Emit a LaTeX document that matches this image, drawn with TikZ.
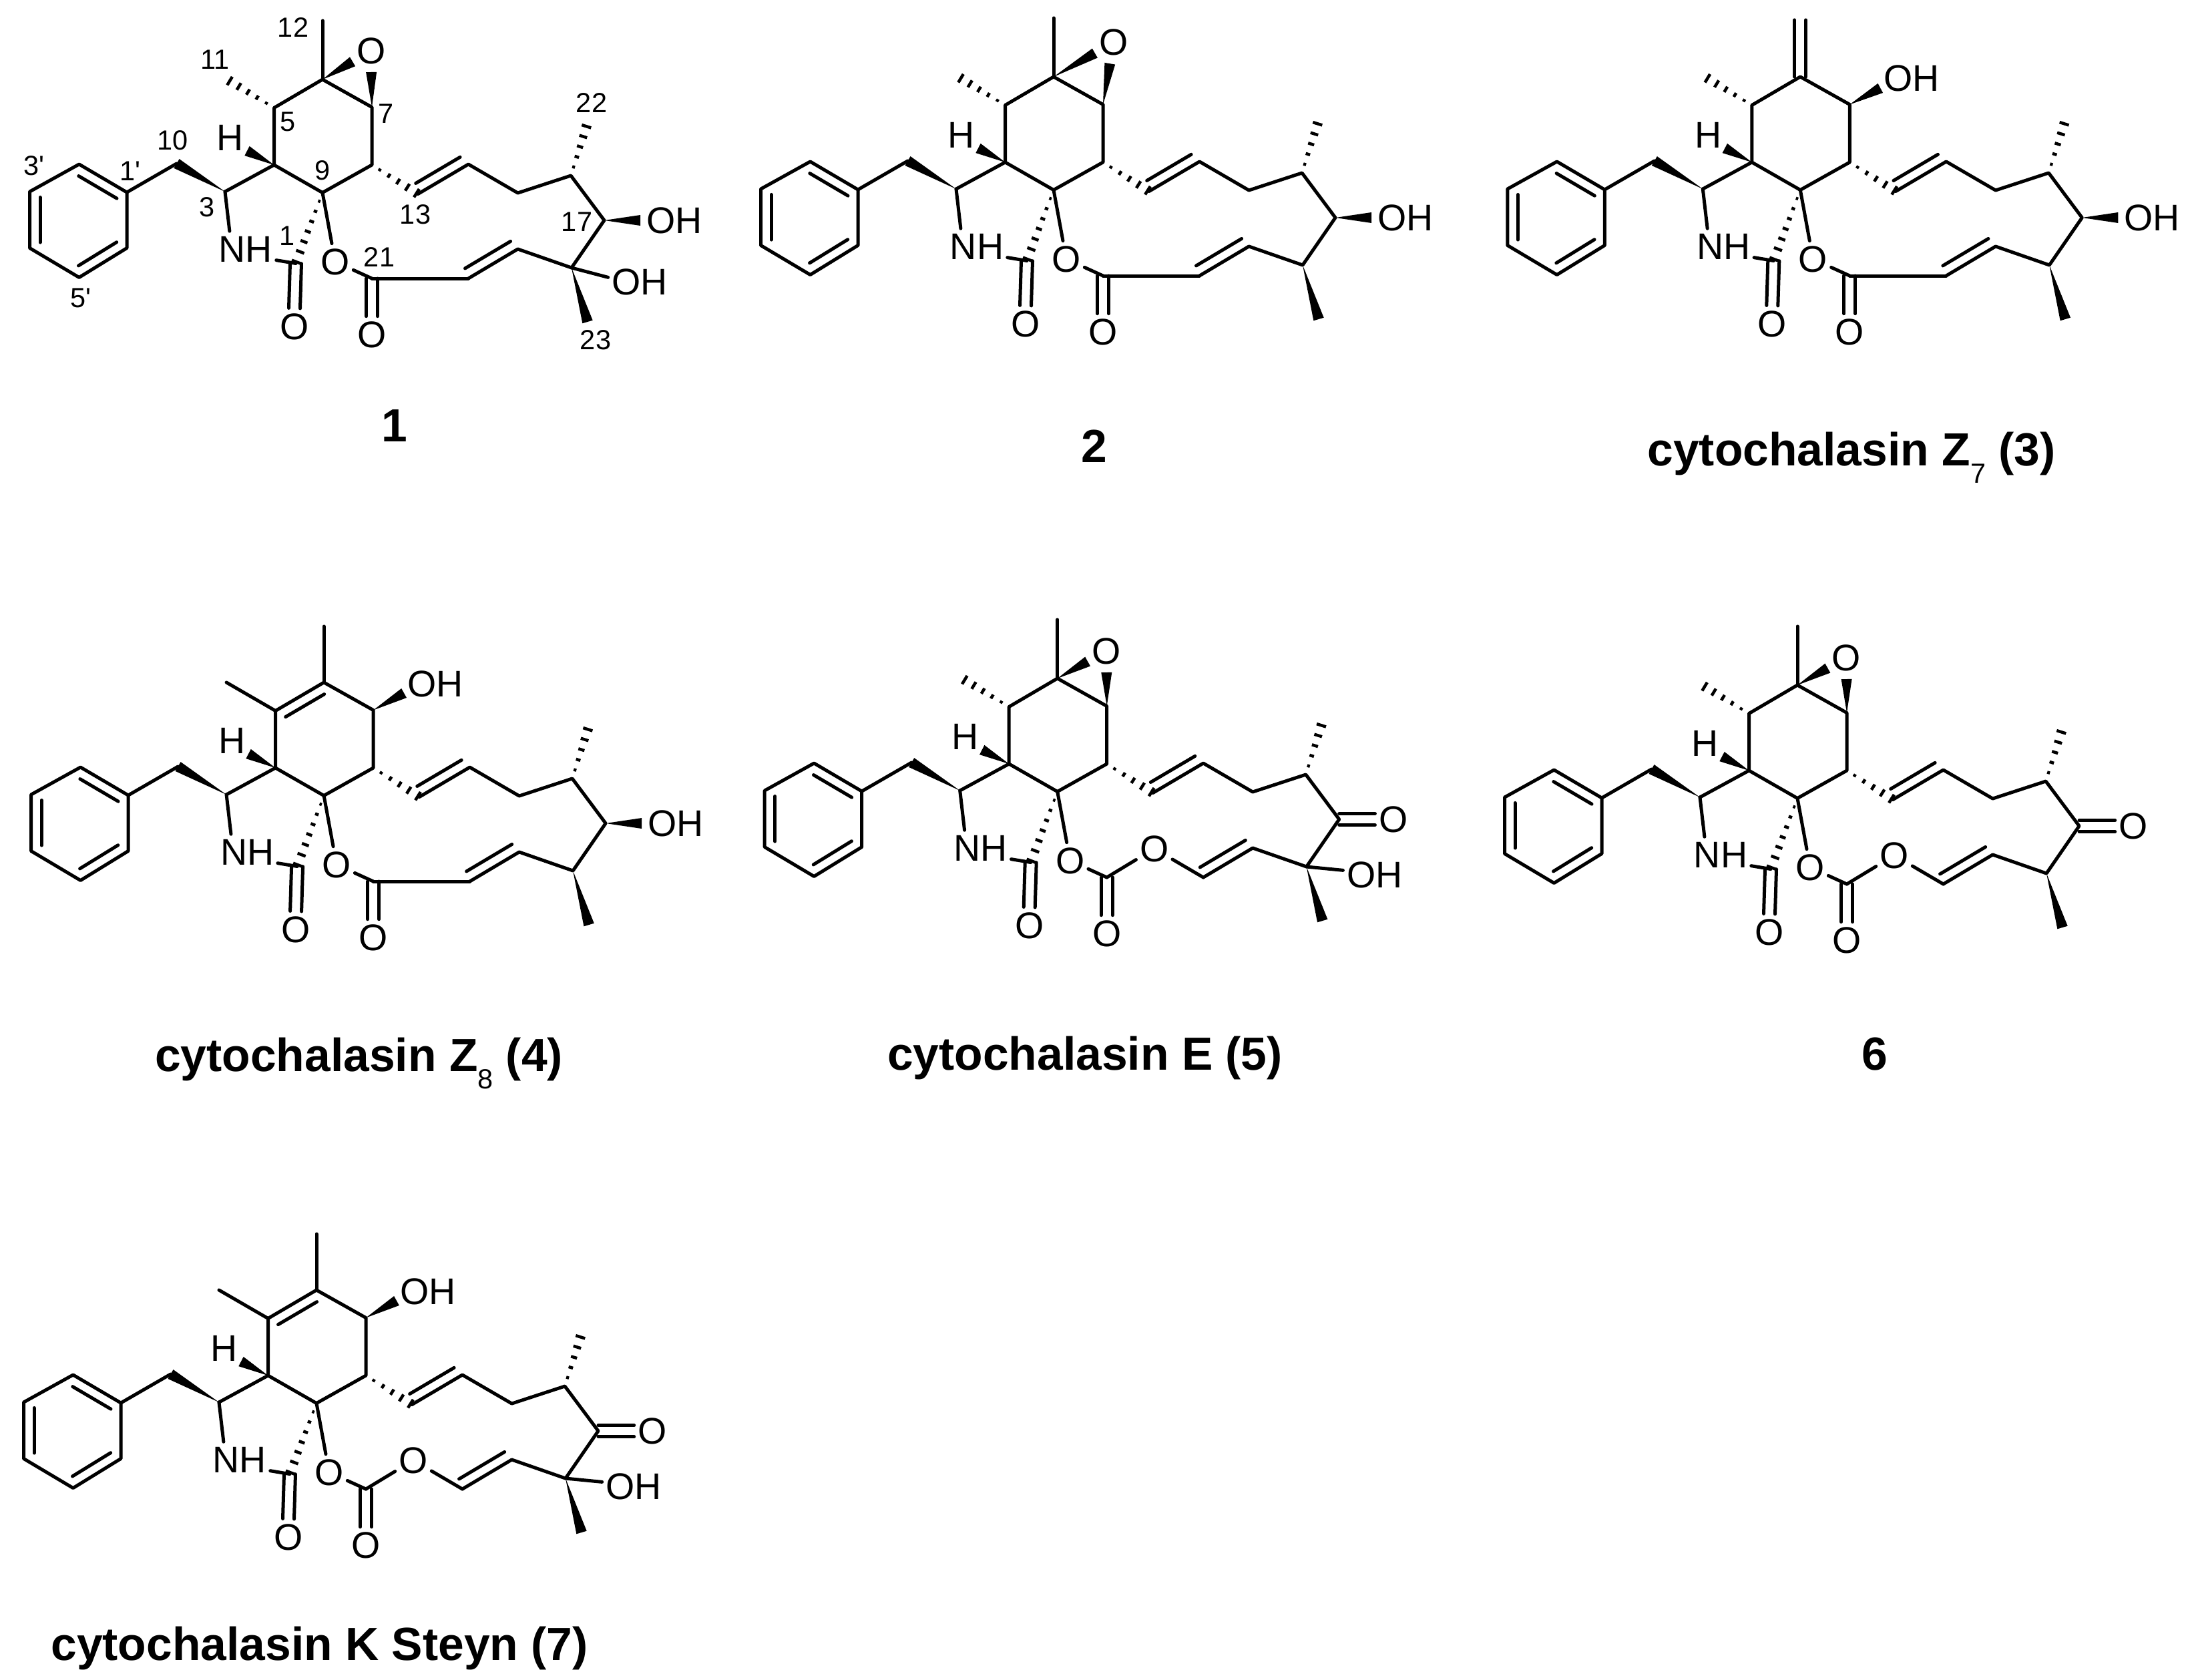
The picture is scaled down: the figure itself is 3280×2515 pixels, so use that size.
\documentclass[tikz,border=0pt]{standalone}
\usepackage{fontspec}
\setmainfont{Liberation Sans}
\usetikzlibrary{calc}
\newcommand{\atomfont}{\fontsize{15.8}{18}\selectfont}
\newcommand{\numfont}{\fontsize{11.8}{14}\selectfont}
\newcommand{\capfont}{\fontsize{19.8}{23}\selectfont\bfseries}
\tikzset{
	bond/.style={line width=.5mm,line cap=round,line join=round},
	hashline/.style={line width=.45mm},
	atomlab/.style={font=\atomfont,inner xsep=.5mm,inner ysep=.7mm},
	numlab/.style={font=\numfont,inner sep=0pt},
	caplab/.style={font=\capfont,anchor=base,inner sep=0pt},
}
\newcommand{\wedgebond}[2]{\fill ($(#2)!.8mm!90:(#1)$) -- (#1) -- ($(#2)!.8mm!-90:(#1)$) -- cycle;}
\newcommand{\hashbond}[3][5]{\foreach \hs in {1,...,#1}{
	\pgfmathsetmacro{\hp}{(\hs-0.15)/#1}
	\pgfmathsetmacro{\hw}{.1+.65*\hp}
	\draw[hashline] ($(#2)!\hp!(#3)!\hw mm!90:(#3)$) -- ($(#2)!\hp!(#3)!\hw mm!-90:(#3)$);}}
\newcommand{\dblbond}[2]{
	\draw[bond] ($(#1)!.85mm!90:(#2)$) -- ($(#2)!.85mm!-90:(#1)$);
	\draw[bond] ($(#1)!.85mm!-90:(#2)$) -- ($(#2)!.85mm!90:(#1)$);}
\newcommand{\innerbond}[3][.1]{\draw[bond] ($(#2)!#1!(#3)!1.55mm!90:(#3)$) -- ($(#3)!#1!(#2)!1.55mm!-90:(#2)$);}
\newcommand{\cytocore}{
	\coordinate (Ph1) at (190,288);
	\coordinate (Ph2) at (118.5,246);
	\coordinate (Ph3) at (44.5,287);
	\coordinate (Ph4) at (44.5,371.5);
	\coordinate (Ph5) at (118.5,415.5);
	\coordinate (Ph6) at (190,371.5);
	\coordinate (C10) at (264.5,245);
	\coordinate (C3) at (337,287);
	\coordinate (C4) at (410.5,247);
	\coordinate (C5) at (410.5,161.5);
	\coordinate (C6) at (483,119);
	\coordinate (C7) at (557,160.5);
	\coordinate (C8) at (557,247);
	\coordinate (C9) at (483,288.5);
	\coordinate (C1) at (443,394.5);
	\coordinate (C13) at (626,290.5);
	\coordinate (C14) at (701.5,246);
	\coordinate (C15) at (775.5,289);
	\coordinate (C16) at (855,263);
	\coordinate (C17) at (905,330);
	\coordinate (C18) at (856,401);
	\coordinate (C19) at (775.5,373);
	\coordinate (C20) at (701.5,417);
	\coordinate (C21) at (557,417);
	\coordinate (Me22) at (879,187);
	\coordinate (Me23) at (880,482);
	\coordinate (Hw) at (370,226);
	\node[atomlab] (Hb) at (345,206) {H};
	\node[atomlab] (NH) at (368,373) {NH};
	\node[atomlab] (Oest) at (502,392) {O};
	\node[atomlab] (Oam) at (441,489) {O};
	\node[atomlab] (Ocb) at (557,501) {O};
	\draw[bond] (Ph1) -- (Ph2) -- (Ph3) -- (Ph4) -- (Ph5) -- (Ph6) -- cycle;
	\innerbond{Ph1}{Ph2}
	\innerbond{Ph3}{Ph4}
	\innerbond{Ph5}{Ph6}
	\draw[bond] (Ph1) -- (C10);
	\wedgebond{C3}{C10}
	\draw[bond] (C3) -- (C4) -- (C5) -- (C6) -- (C7) -- (C8) -- (C9) -- (C4);
	\wedgebond{C4}{Hw}
	\draw[bond] (C3) -- (NH.132);
	\draw[bond] (NH.-20) -- (C1);
	\dblbond{C1}{Oam.north}
	\hashbond[7]{C9}{C1}
	\draw[bond] (C9) -- (Oest);
	\draw[bond] (Oest) -- (C21);
	\dblbond{C21}{Ocb.north}
	\hashbond{C8}{C13}
	\draw[bond] (C13) -- (C14) -- (C15) -- (C16) -- (C17) -- (C18) -- (C19) -- (C20);
	\innerbond[.06]{C13}{C14}
	\innerbond[.04]{C20}{C19}
	\hashbond{C16}{Me22}
	\wedgebond{C18}{Me23}
}
\newcommand{\epoxytop}[1]{
	\coordinate (C12) at (483,31);
	\coordinate (C11) at (342,120);
	\node[atomlab] (Oep) at (#1) {O};
	\coordinate (Wa) at ($(Oep)!3.2mm!(C6)$);
	\coordinate (Wb) at ($(Oep)!3.2mm!(C7)$);
	\draw[bond] (C6) -- (C12);
	\hashbond{C5}{C11}
	\wedgebond{C6}{Wa}
	\wedgebond{C7}{Wb}
}
\newcommand{\alkenetop}{
	\coordinate (C12) at (483,35);
	\coordinate (C11) at (337,119);
	\coordinate (Wc) at (603,135);
	\node[atomlab] (OHc) at (650,121) {OH};
	\draw[bond] (C6) -- (C12);
	\draw[bond] (C5) -- (C11);
	\innerbond{C6}{C5}
	\wedgebond{C7}{Wc}
}
\newcommand{\alcoholside}{
	\coordinate (Wd) at (959,330);
	\node[atomlab] (OHd) at (1010,330) {OH};
	\wedgebond{C17}{Wd}
	\draw[bond] (C21) -- (C20);
}
\newcommand{\ketoneside}{
	\node[atomlab] (Okt) at (986,330) {O};
	\node[atomlab] (Ocr) at (628,374) {O};
	\dblbond{C17}{Okt.west}
	\draw[bond] (C21) -- (Ocr);
	\draw[bond] (Ocr) -- (C20);
}
\newcommand{\tertoh}[1]{
	\node[atomlab] (OHe) at (958,#1) {OH};
	\draw[bond] (C18) -- (OHe.172);
}
\begin{document}
\begin{tikzpicture}[x=.1mm,y=-.1mm]
	\useasboundingbox (0,0) rectangle (3280,2515);
	\fill[white] (0,0) rectangle (3280,2515);
	\begin{scope}[name prefix=m1-]
		\cytocore
		\epoxytop{555.6,76}
		\alcoholside
		\tertoh{422}
		\node[numlab] (n12) at (439,41) {12};
		\node[numlab] (n11) at (322,89) {11};
		\node[numlab] (n5) at (431,182) {5};
		\node[numlab] (n7) at (578,170) {7};
		\node[numlab] (n10) at (259,210) {10};
		\node[numlab] (n3p) at (51,248) {3\textquotesingle};
		\node[numlab] (n1p) at (195,256) {1\textquotesingle};
		\node[numlab] (n3) at (310,310) {3};
		\node[numlab] (n9) at (483,255) {9};
		\node[numlab] (n1) at (430,353) {1};
		\node[numlab] (n21) at (568,385) {21};
		\node[numlab] (n13) at (622,321) {13};
		\node[numlab] (n22) at (886,154) {22};
		\node[numlab] (n17) at (864,332) {17};
		\node[numlab] (n23) at (892,509) {23};
		\node[numlab] (n5p) at (121,446) {5\textquotesingle};
	\end{scope}
	\begin{scope}[shift={(1095,-4)},name prefix=m2-]
		\cytocore
		\epoxytop{572.6,67.7}
		\alcoholside
	\end{scope}
	\begin{scope}[shift={(2213.3,-4)},name prefix=m3-]
		\cytocore
		\coordinate (CH2) at (483,34);
		\coordinate (C11) at (342,120);
		\coordinate (Wc) at (603,136);
		\node[atomlab] (OHc) at (650,121) {OH};
		\dblbond{C6}{CH2}
		\hashbond{C5}{C11}
		\wedgebond{C7}{Wc}
		\alcoholside
	\end{scope}
	\begin{scope}[shift={(2.1,903)},name prefix=m4-]
		\cytocore
		\alkenetop
		\alcoholside
	\end{scope}
	\begin{scope}[shift={(1100.7,897)},name prefix=m5-]
		\cytocore
		\epoxytop{556.3,78}
		\ketoneside
		\tertoh{413}
	\end{scope}
	\begin{scope}[shift={(2209,907)},name prefix=m6-]
		\cytocore
		\epoxytop{556.3,78}
		\ketoneside
	\end{scope}
	\begin{scope}[shift={(-9,1813)},name prefix=m7-]
		\cytocore
		\alkenetop
		\ketoneside
		\tertoh{413}
	\end{scope}
	\node[caplab] (cap1) at (591,661) {1};
	\node[caplab] (cap2) at (1639,692) {2};
	\node[caplab] (cap3) at (2773,697) {cytochalasin Z\raisebox{-.38em}{\numfont\mdseries 7} (3)};
	\node[caplab] (cap4) at (537.6,1604) {cytochalasin Z\raisebox{-.38em}{\numfont\mdseries 8} (4)};
	\node[caplab] (cap5) at (1625,1602.5) {cytochalasin E (5)};
	\node[caplab] (cap6) at (2808,1602.5) {6};
	\node[caplab] (cap7) at (478.5,2486) {cytochalasin K Steyn (7)};
\end{tikzpicture}
\end{document}
